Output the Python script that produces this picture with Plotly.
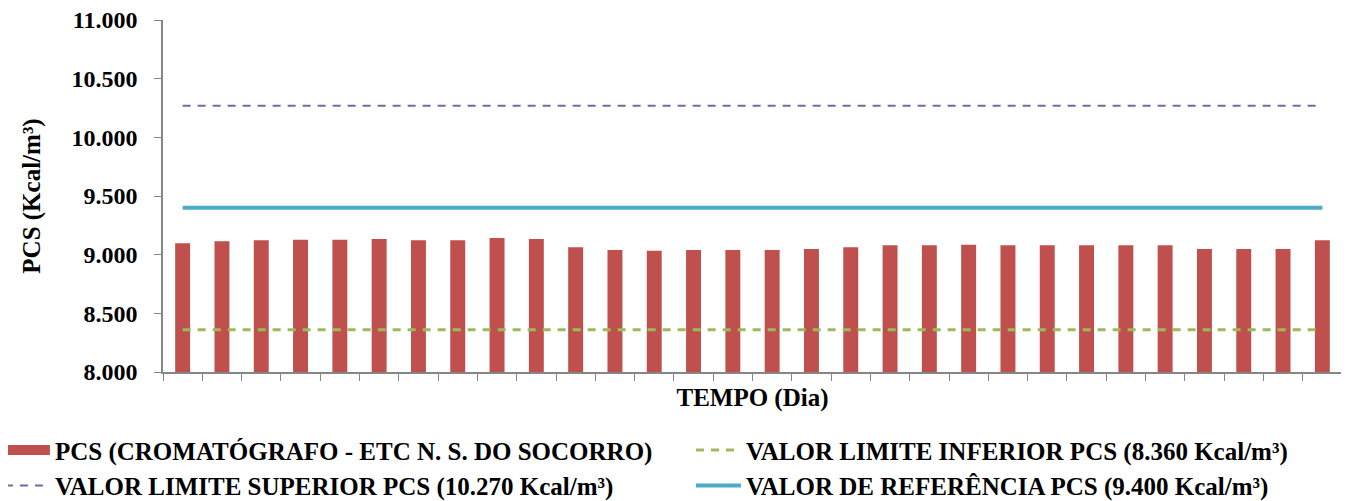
import plotly.graph_objects as go

dias = [str(d) for d in range(1, 31)]
pcs = [9097, 9114, 9122, 9128, 9128, 9134, 9122, 9122, 9142, 9134,
       9063, 9040, 9034, 9040, 9040, 9040, 9048, 9063, 9080, 9080,
       9085, 9080, 9080, 9080, 9080, 9080, 9048, 9048, 9048, 9122]
limite_inferior = [8360] * 30
limite_superior = [10270] * 30
referencia = [9400] * 30

font_family = "Liberation Serif"

fig = go.Figure()
fig.add_trace(go.Bar(
    x=dias, y=pcs, name="PCS (CROMATÓGRAFO - ETC N. S. DO SOCORRO)",
    marker=dict(color="#C0504D", line=dict(width=0)), showlegend=False,
))
fig.add_trace(go.Scatter(
    x=[None], y=[None], mode="lines",
    name="PCS (CROMATÓGRAFO - ETC N. S. DO SOCORRO)",
    line=dict(color="#C0504D", width=12), legend="legend", legendgroup="a",
))
fig.add_trace(go.Scatter(
    x=dias, y=limite_inferior, mode="lines",
    name="VALOR LIMITE INFERIOR PCS (8.360 Kcal/m³)",
    line=dict(color="#9BBB59", width=3, dash="8px,7px"), legend="legend2", legendgroup="b",
))
fig.add_trace(go.Scatter(
    x=dias, y=limite_superior, mode="lines",
    name="VALOR LIMITE SUPERIOR PCS (10.270 Kcal/m³)",
    line=dict(color="#8064A2", width=2, dash="8px,7px"), legend="legend", legendgroup="c",
))
fig.add_trace(go.Scatter(
    x=dias, y=referencia, mode="lines",
    name="VALOR DE REFERÊNCIA PCS (9.400 Kcal/m³)",
    line=dict(color="#4BACC6", width=4), legend="legend2", legendgroup="d",
))

legend_common = dict(
    orientation="v", yanchor="top", xanchor="left", y=-0.157,
    font=dict(family=font_family, size=25, color="black", weight="bold"),
    bgcolor="rgba(0,0,0,0)", itemwidth=45, tracegroupgap=13,
    traceorder="normal",
)

fig.update_layout(
    width=1341, height=493,
    margin=dict(l=155, r=7, t=12, b=129, autoexpand=False),
    paper_bgcolor="white", plot_bgcolor="white",
    separators=",.",
    bargap=0.62,
    font=dict(family=font_family, size=25, color="black"),
    showlegend=True,
    legend=dict(x=-0.1383, **legend_common),
    legend2=dict(x=0.4478, **legend_common),
)
fig.update_xaxes(
    type="category", showticklabels=False,
    showline=True, linecolor="#868686", linewidth=1.5,
    ticks="outside", tickson="boundaries", ticklen=7, tickcolor="#868686",
    showgrid=False,
    title=dict(text="<b>TEMPO (Dia)</b>", standoff=16,
               font=dict(family=font_family, size=25)),
)
fig.update_yaxes(
    range=[8000, 11000], dtick=500, tick0=8000, tickformat=",.0f",
    showline=True, linecolor="#868686", linewidth=1.5,
    ticks="outside", ticklen=7, tickcolor="#868686", ticklabelstandoff=12,
    ticklabeloverflow="allow",
    showgrid=False, zeroline=False,
    tickfont=dict(family=font_family, size=24, weight="bold"),
    title=dict(text="<b>PCS (Kcal/m³)</b>", standoff=24,
               font=dict(family=font_family, size=25)),
)

fig.write_html("out.html")
